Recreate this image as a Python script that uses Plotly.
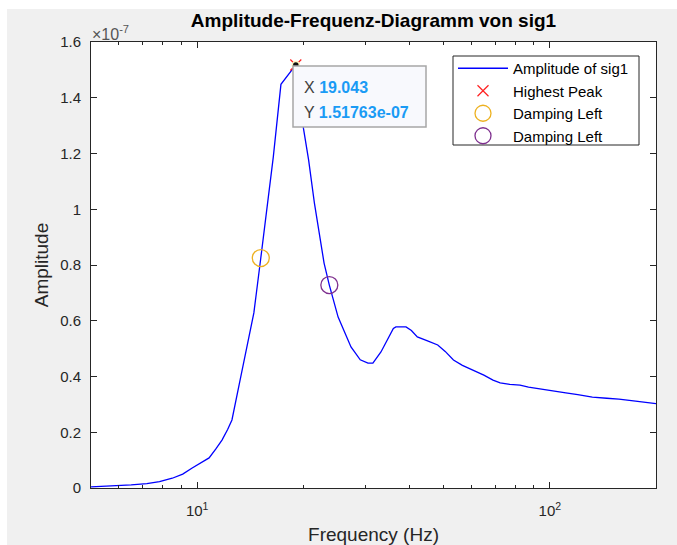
import numpy as np
import plotly.graph_objects as go

# Amplitude spectrum of sig1 (frequency in Hz, amplitude in units of 1e-7)
freq = [5.0, 5.76, 6.5, 7.2, 7.82, 8.5, 9.1, 9.68, 10.2, 10.81, 11.3, 11.76,
        12.2, 12.55, 13.15, 13.8, 14.48, 15.15, 15.5, 15.96, 16.44, 17.28,
        19.043, 20.01, 20.7, 21.5, 22.34, 22.9, 23.7, 25.1, 27.3, 29.0, 30.5,
        31.5, 33.2, 34.7, 36.0, 36.6, 39.1, 40.5, 42.1, 45.0, 48.1, 50.5, 53.3,
        56.5, 60.7, 65.0, 69.0, 72.3, 77.0, 82.3, 87.0, 93.7, 100.0, 111.0,
        120.0, 132.0, 145.0, 157.0, 175.0, 194.0, 200.0]
amp_e7 = [0.004, 0.007, 0.011, 0.016, 0.023, 0.035, 0.05, 0.072, 0.089, 0.108,
          0.14, 0.172, 0.21, 0.244, 0.37, 0.5, 0.628, 0.825, 0.93, 1.06, 1.188,
          1.448, 1.51763, 1.291, 1.177, 1.022, 0.89, 0.807, 0.728, 0.613, 0.506,
          0.46, 0.448, 0.448, 0.488, 0.531, 0.572, 0.578, 0.578, 0.565, 0.542,
          0.528, 0.513, 0.49, 0.459, 0.44, 0.423, 0.405, 0.387, 0.377, 0.372,
          0.369, 0.362, 0.355, 0.35, 0.341, 0.335, 0.326, 0.322, 0.319, 0.312,
          0.305, 0.303]
SCALE = 1e-7
amplitude = np.array(amp_e7) * SCALE

peak_freq = 19.043
peak_amp = 1.51763e-07

damp_left_freq = [15.15]
damp_left_amp = [0.825e-7]
damp_right_freq = [23.7]
damp_right_amp = [0.728e-7]

y_ticks = [0, 0.2, 0.4, 0.6, 0.8, 1.0, 1.2, 1.4, 1.6]
y_tick_text = ["0", "0.2", "0.4", "0.6", "0.8", "1", "1.2", "1.4", "1.6"]
x_major = [10, 100]
x_major_text = ["10<sup>1</sup>", "10<sup>2</sup>"]
x_minor = [6, 7, 8, 9, 20, 30, 40, 50, 60, 70, 80, 90, 200]

FONT = "Liberation Sans, Arial, Helvetica, sans-serif"
AX_COLOR = "#262626"
TXT_COLOR = "#404040"

W, H = 677, 545
L, R, T, B = 91, 21, 42, 57
PW, PH = W - L - R, H - T - B


def px(x):
    return (x - L) / PW


def py(y):
    return (H - B - y) / PH


fig = go.Figure()
fig.add_trace(go.Scatter(
    x=freq, y=amplitude, mode="lines", name="Amplitude of sig1",
    line=dict(color="#0000ff", width=1.3)))
fig.add_trace(go.Scatter(
    x=[peak_freq], y=[peak_amp], mode="markers", name="Highest Peak",
    marker=dict(symbol="x-thin", size=11, line=dict(color="#ff2020", width=1.2))))
fig.add_trace(go.Scatter(
    x=damp_left_freq, y=damp_left_amp, mode="markers", name="Damping Left",
    marker=dict(symbol="circle-open", size=17, color="#EDB120",
                line=dict(color="#EDB120", width=1.3))))
fig.add_trace(go.Scatter(
    x=damp_right_freq, y=damp_right_amp, mode="markers", name="Damping Left",
    marker=dict(symbol="circle-open", size=17, color="#7E2F8E",
                line=dict(color="#7E2F8E", width=1.3))))
# data tip marker
fig.add_trace(go.Scatter(
    x=[peak_freq], y=[peak_amp], mode="markers", showlegend=False,
    hoverinfo="skip",
    marker=dict(symbol="circle", size=7, color="#111111",
                line=dict(color="#fff6c0", width=1.5))))

shapes = [
    # white outer frame around the grey figure area
    dict(type="rect", xref="paper", yref="paper", x0=px(0), x1=px(7),
         y0=py(H), y1=py(0), fillcolor="white", line=dict(width=0), layer="below"),
    dict(type="rect", xref="paper", yref="paper", x0=px(0), x1=px(W),
         y0=py(9), y1=py(0), fillcolor="white", line=dict(width=0), layer="below"),
    # data tip box
    dict(type="rect", xref="paper", yref="paper", x0=px(293), x1=px(426),
         y0=py(127), y1=py(66), fillcolor="#f8f9fd",
         line=dict(color="#a6a6a6", width=1.5), layer="above"),
    # legend frame
    dict(type="rect", xref="paper", yref="paper", x0=px(453), x1=px(639),
         y0=py(145), y1=py(56), fillcolor="white",
         line=dict(color="#262626", width=1), layer="above"),
]

tip_val = "<b><span style='color:#1a9bf5'>{}</span></b>"
annotations = [
    dict(xref="paper", yref="paper", x=px(302), y=py(88), xanchor="left",
         yanchor="middle", showarrow=False,
         text="X " + tip_val.format(f"{peak_freq:.3f}"),
         font=dict(family=FONT, size=16, color=TXT_COLOR)),
    dict(xref="paper", yref="paper", x=px(302), y=py(112), xanchor="left",
         yanchor="middle", showarrow=False,
         text="Y " + tip_val.format(f"{peak_amp:g}"),
         font=dict(family=FONT, size=16, color=TXT_COLOR)),
    dict(xref="paper", yref="paper", x=px(90), y=py(33), xanchor="left",
         yanchor="middle", showarrow=False,
         text="×10<sup>-7</sup>",
         font=dict(family=FONT, size=16, color="#555555")),
]

fig.update_layout(
    width=W, height=H,
    margin=dict(l=L, r=R, t=T, b=B, pad=0, autoexpand=False),
    paper_bgcolor="#f0f0f0", plot_bgcolor="white",
    font=dict(family=FONT, color=AX_COLOR),
    title=dict(text="<b>Amplitude-Frequenz-Diagramm von sig1</b>",
               x=(L + PW / 2) / W, xanchor="center",
               y=1 - 20 / H, yanchor="middle", yref="container",
               font=dict(family=FONT, size=19, color="#000000")),
    showlegend=True,
    legend=dict(x=px(453), y=py(52), xanchor="left", yanchor="top",
                bgcolor="rgba(0,0,0,0)", borderwidth=0,
                font=dict(family=FONT, size=15, color="#000000"),
                itemwidth=50, tracegroupgap=0),
    shapes=shapes, annotations=annotations,
)

fig.update_xaxes(
    type="log", range=[np.log10(5), np.log10(200)], automargin=False,
    tickvals=x_major, ticktext=x_major_text,
    ticks="inside", ticklen=6, tickcolor=AX_COLOR, tickwidth=1,
    minor=dict(tickvals=x_minor, ticks="inside", ticklen=3,
               tickcolor=AX_COLOR, showgrid=False),
    showline=True, linecolor=AX_COLOR, linewidth=1, mirror="ticks",
    showgrid=False, zeroline=False,
    tickfont=dict(family=FONT, size=15, color=AX_COLOR),
    ticklabelstandoff=9,
    title=dict(text="Frequency (Hz)", standoff=12,
               font=dict(family=FONT, size=19, color=AX_COLOR)),
)
fig.update_yaxes(
    range=[0, 1.6 * SCALE], automargin=False,
    tickvals=[v * SCALE for v in y_ticks], ticktext=y_tick_text,
    ticks="inside", ticklen=6, tickcolor=AX_COLOR, tickwidth=1,
    showline=True, linecolor=AX_COLOR, linewidth=1, mirror="ticks",
    showgrid=False, zeroline=False,
    tickfont=dict(family=FONT, size=15, color=AX_COLOR),
    ticklabelstandoff=6,
    title=dict(text="Amplitude", standoff=6,
               font=dict(family=FONT, size=19, color=AX_COLOR)),
)

fig.write_html("out.html")
